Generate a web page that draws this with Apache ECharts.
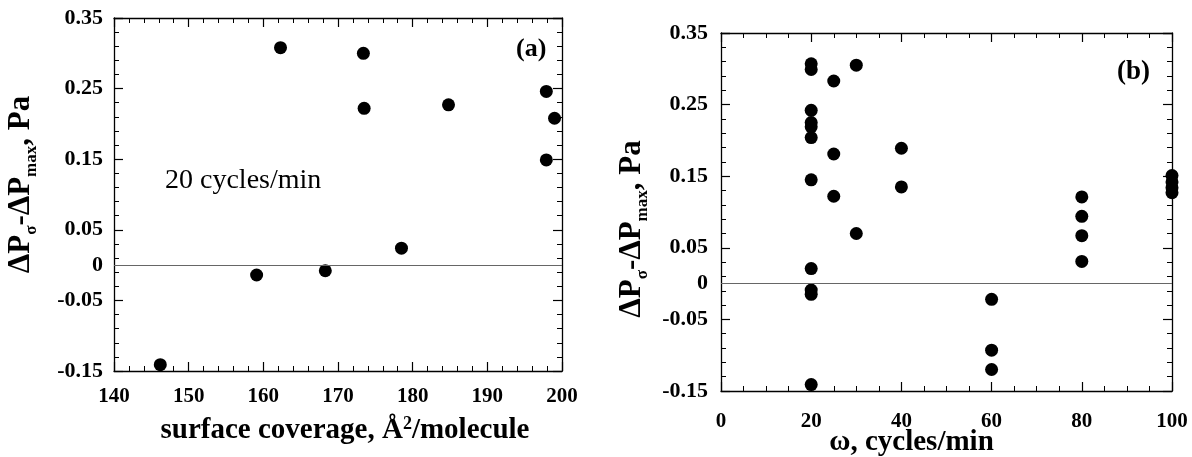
<!DOCTYPE html>
<html>
<head>
<meta charset="utf-8">
<script src="https://cdn.jsdelivr.net/npm/echarts@6/dist/echarts.min.js"></script>
<style>
html,body{margin:0;padding:0;background:#fff;}
#c{width:1192px;height:457px;}
</style>
</head>
<body>
<div id="c"></div>
<script>
// Panel (a): surface coverage vs pressure difference (20 cycles/min)
const coverageX = [146.2, 159.1, 162.3, 168.3, 173.4, 173.5, 178.5, 184.8, 197.9, 197.9, 199.0];
const coverageY = [-0.141, -0.014, 0.308, -0.008, 0.300, 0.222, 0.024, 0.227, 0.246, 0.149, 0.208];

// Panel (b): frequency vs pressure difference
const freqX = [20, 20, 20, 20, 20, 20, 20, 20, 20, 20, 20,
               25, 25, 25,
               30, 30,
               40, 40,
               60, 60, 60,
               80, 80, 80, 80,
               100, 100, 100, 100];
const freqY = [0.307, 0.299, 0.242, 0.225, 0.219, 0.204, 0.145, 0.021, -0.009, -0.015, -0.141,
               0.283, 0.181, 0.122,
               0.305, 0.070,
               0.189, 0.135,
               -0.022, -0.093, -0.120,
               0.121, 0.094, 0.067, 0.031,
               0.151, 0.142, 0.134, 0.127];

const yTickValues = [-0.15, -0.05, 0.05, 0.15, 0.25, 0.35];
const xTicksA = [140, 150, 160, 170, 180, 190, 200];
const xTicksB = [0, 20, 40, 60, 80, 100];

const FONT = "'Liberation Serif', 'DejaVu Serif', serif";
const pairs = (xs, ys) => xs.map((x, i) => [x, ys[i]]);
const fmt = v => String(Math.round(v * 100) / 100);

const axisLineStyle = {show: true, onZero: false, lineStyle: {color: '#000', width: 1.3}};
const tickStyle = {show: true, inside: true, length: 9, lineStyle: {color: '#000', width: 1.2}};
const minorStyle = (n) => ({show: true, splitNumber: n, length: 5, lineStyle: {color: '#000', width: 1}});
const labelStyle = (m, size, pad) => ({show: true, margin: m, color: '#000', fontFamily: FONT, fontWeight: 'bold',
  fontSize: size, formatter: fmt, padding: pad || 0});

const yMin = yTickValues[0], yMax = yTickValues[yTickValues.length - 1];

function xAxisPair(grid, ticks, minorN, margin, name, rich, gap, namePad) {
  const min = ticks[0], max = ticks[ticks.length - 1], interval = ticks[1] - ticks[0];
  return [
    {type: 'value', gridIndex: grid, position: 'bottom', min, max, interval,
     axisLine: axisLineStyle, axisTick: tickStyle, minorTick: minorStyle(minorN),
     splitLine: {show: false}, axisLabel: labelStyle(margin, 21),
     name, nameLocation: 'middle', nameGap: gap, nameMoveOverlap: false,
     nameTextStyle: {rich, padding: namePad}},
    {type: 'value', gridIndex: grid, position: 'top', min, max, interval,
     axisLine: axisLineStyle, axisTick: tickStyle, minorTick: minorStyle(minorN),
     splitLine: {show: false}, axisLabel: {show: false}}
  ];
}

function yAxisTriple(grid, margin, gap, namePad) {
  const interval = yTickValues[1] - yTickValues[0];
  return [
    {type: 'value', gridIndex: grid, position: 'left', min: yMin, max: yMax, interval,
     axisLine: axisLineStyle, axisTick: tickStyle, minorTick: minorStyle(5),
     splitLine: {show: false}, axisLabel: labelStyle(margin, 22, [5, 0, 0, 0]),
     name: '{m|ΔP}{s|σ}{m|-ΔP}{s|max}{m|, Pa}', nameLocation: 'middle', nameRotate: 90, nameGap: gap,
     nameMoveOverlap: false,
     nameTextStyle: {padding: namePad, rich: {
       m: {fontFamily: FONT, fontWeight: 'bold', fontSize: 31, lineHeight: 38, color: '#000'},
       s: {fontFamily: FONT, fontWeight: 'bold', fontSize: 17, lineHeight: 15, verticalAlign: 'bottom', color: '#000'}
     }}},
    {type: 'value', gridIndex: grid, position: 'right', min: yMin, max: yMax, interval,
     axisLine: axisLineStyle, axisTick: tickStyle, minorTick: minorStyle(5),
     splitLine: {show: false}, axisLabel: {show: false}},
    {type: 'value', gridIndex: grid, position: 'left', min: yMin, max: yMax, interval: 0.05,
     axisLine: {show: false}, axisTick: {show: false}, splitLine: {show: false},
     axisLabel: Object.assign(labelStyle(margin, 22, [5, 0, 0, 0]), {formatter: v => Math.abs(v) < 1e-6 ? '0' : ''})}
  ];
}

const xA = xAxisPair(0, xTicksA, 5, 15, '{t|surface coverage, Å}{u|2}{t|/molecule}', {
  t: {fontFamily: FONT, fontWeight: 'bold', fontSize: 29, lineHeight: 32, color: '#000'},
  u: {fontFamily: FONT, fontWeight: 'bold', fontSize: 18, lineHeight: 14, verticalAlign: 'top', color: '#000'}
}, 44, [0, 0, 0, 14]);
const xB = xAxisPair(1, xTicksB, 20, 0, '{t|ω, cycles/min}', {
  t: {fontFamily: FONT, fontWeight: 'bold', fontSize: 29, lineHeight: 32, color: '#000'}
}, 36, [0, 70, 0, 0]);
// fix: minor split for panel (b) is 4 (ticks every 5), margin 20
xB[0].minorTick = minorStyle(4); xB[1].minorTick = minorStyle(4);
xB[0].axisLabel = labelStyle(20, 21);

const zeroLine = {
  silent: true, symbol: 'none', label: {show: false},
  lineStyle: {color: '#666', width: 1, type: 'solid'},
  data: [{yAxis: 0}]
};

const option = {
  animation: false,
  backgroundColor: '#fff',
  grid: [
    {left: 114, top: 18, width: 448, height: 353, containLabel: false, outerBoundsMode: 'none'},
    {left: 721, top: 33, width: 451, height: 358, containLabel: false, outerBoundsMode: 'none'}
  ],
  xAxis: [...xA, ...xB],
  yAxis: [...yAxisTriple(0, 11, 74, [0, 0, 0, 20]), ...yAxisTriple(1, 13, 70, [0, 34, 0, 0])],
  graphic: [
    {type: 'text', left: 165, top: 167, style: {text: '20 cycles/min', font: '28px ' + FONT, fill: '#000'}},
    {type: 'text', left: 516, top: 36, style: {text: '(a)', font: 'bold 26px ' + FONT, fill: '#000'}},
    {type: 'text', left: 1117, top: 59, style: {text: '(b)', font: 'bold 27px ' + FONT, fill: '#000'}}
  ],
  series: [
    {type: 'scatter', xAxisIndex: 0, yAxisIndex: 0, symbol: 'circle', symbolSize: 13,
     itemStyle: {color: '#000', opacity: 1}, data: pairs(coverageX, coverageY), markLine: zeroLine},
    {type: 'scatter', xAxisIndex: 2, yAxisIndex: 3, symbol: 'circle', symbolSize: 13,
     itemStyle: {color: '#000', opacity: 1}, data: pairs(freqX, freqY), markLine: zeroLine}
  ]
};

const chart = echarts.init(document.getElementById('c'), null, {renderer: 'canvas'});
chart.setOption(option);
</script>
</body>
</html>
